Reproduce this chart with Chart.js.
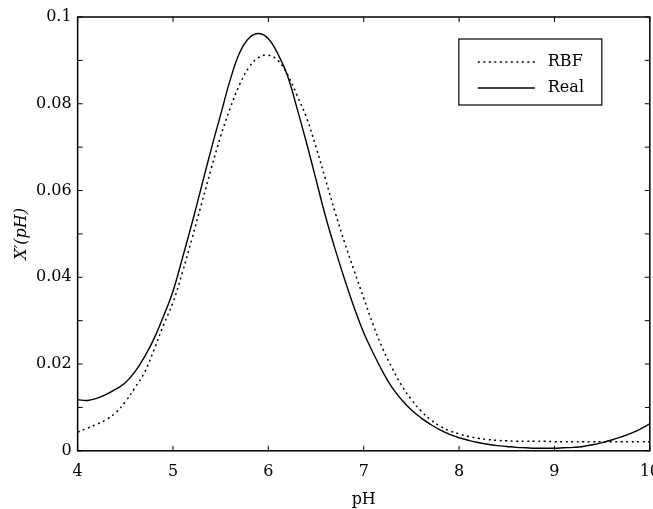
<!DOCTYPE html>
<html>
<head>
<meta charset="utf-8">
<script src="https://cdn.jsdelivr.net/npm/chart.js@4.4.0/dist/chart.umd.min.js"></script>
<style>
  html, body { margin: 0; padding: 0; background: #fff; overflow: hidden; }
  #wrap { width: 671px; height: 509px; }
</style>
</head>
<body>
<div id="wrap"><canvas id="chart"></canvas></div>
<script>
// pH values on the x axis
const ph = [
  4.0, 4.1, 4.2, 4.3, 4.4, 4.5, 4.6, 4.7, 4.8, 4.9,
  5.0, 5.1, 5.2, 5.3, 5.4, 5.5, 5.6, 5.7, 5.8, 5.9,
  6.0, 6.1, 6.2, 6.3, 6.4, 6.5, 6.6, 6.7, 6.8, 6.9,
  7.0, 7.1, 7.2, 7.3, 7.4, 7.5, 7.6, 7.7, 7.8, 7.9,
  8.0, 8.1, 8.2, 8.3, 8.4, 8.5, 8.6, 8.7, 8.8, 8.9,
  9.0, 9.1, 9.2, 9.3, 9.4, 9.5, 9.6, 9.7, 9.8, 9.9, 10.0
];

// RBF approximation (dotted)
const rbf = [
  0.0043, 0.0052, 0.0061, 0.0072, 0.0088, 0.0113, 0.0145, 0.0180, 0.0232, 0.0290,
  0.0342, 0.0412, 0.0490, 0.0570, 0.0650, 0.0725, 0.0790, 0.0845, 0.0885, 0.0907,
  0.0912, 0.0900, 0.0868, 0.0820, 0.0768, 0.0700, 0.0625, 0.0550, 0.0480, 0.0415,
  0.0352, 0.0290, 0.0235, 0.0190, 0.0150, 0.0118, 0.0092, 0.0072, 0.0057, 0.0046,
  0.0039, 0.0033, 0.0029, 0.0026, 0.0024, 0.0023, 0.0022, 0.0022, 0.0022, 0.0022,
  0.0021, 0.0021, 0.0021, 0.0021, 0.0021, 0.0021, 0.0021, 0.0021, 0.0021, 0.0021, 0.0021
];

// real curve (solid)
const real = [
  0.0118, 0.0116, 0.0121, 0.0130, 0.0142, 0.0157, 0.0182, 0.0216, 0.0258, 0.0310,
  0.0368, 0.0445, 0.0525, 0.0610, 0.0695, 0.0775, 0.0855, 0.0918, 0.0952, 0.0962,
  0.0950, 0.0915, 0.0865, 0.0790, 0.0710, 0.0625, 0.0540, 0.0465, 0.0395, 0.0330,
  0.0272, 0.0225, 0.0182, 0.0145, 0.0117, 0.0094, 0.0076, 0.0061, 0.0048, 0.0038,
  0.0030, 0.0024, 0.0019, 0.0015, 0.0012, 0.0010, 0.0008, 0.0007, 0.0006, 0.0006,
  0.0006, 0.0007, 0.0008, 0.0010, 0.0014, 0.0019, 0.0025, 0.0032, 0.0040, 0.0050, 0.0062
];

const seriesNames = ["RBF", "Real"];
const FONT = "'DejaVu Serif', 'Liberation Serif', serif";

function pts(ys) {
  return ph.map((x, i) => ({ x: x, y: ys[i] }));
}

// frame, inward ticks and the boxed legend
const framePlugin = {
  id: "frame",
  afterDraw(chart) {
    const { ctx, chartArea: a, scales } = chart;
    ctx.save();
    ctx.strokeStyle = "#000";
    ctx.lineWidth = 1.5;
    ctx.strokeRect(a.left, a.top, a.right - a.left, a.bottom - a.top);
    ctx.lineWidth = 1;
    ctx.beginPath();
    scales.y.ticks.forEach(t => {
      const y = scales.y.getPixelForValue(t.value);
      ctx.moveTo(a.left, y); ctx.lineTo(a.left + 5, y);
      ctx.moveTo(a.right, y); ctx.lineTo(a.right - 5, y);
    });
    scales.x.ticks.forEach(t => {
      const x = scales.x.getPixelForValue(t.value);
      ctx.moveTo(x, a.bottom); ctx.lineTo(x, a.bottom - 5);
      ctx.moveTo(x, a.top); ctx.lineTo(x, a.top + 5);
    });
    ctx.stroke();

    // legend box
    const bx = a.right - 191, by = a.top + 22, bw = 143, bh = 66;
    ctx.fillStyle = "#fff";
    ctx.fillRect(bx, by, bw, bh);
    ctx.lineWidth = 1.2;
    ctx.strokeRect(bx, by, bw, bh);
    ctx.font = "16px " + FONT;
    ctx.textBaseline = "middle";
    ctx.fillStyle = "#000";
    chart.data.datasets.forEach((ds, i) => {
      const ly = by + 23 + i * 26;
      ctx.beginPath();
      ctx.lineWidth = ds.borderWidth;
      ctx.setLineDash(ds.borderDash || []);
      ctx.moveTo(bx + 19, ly);
      ctx.lineTo(bx + 76, ly);
      ctx.stroke();
      ctx.setLineDash([]);
      ctx.fillText(ds.label, bx + 89, ly);
    });
    ctx.restore();
  }
};

new Chart(document.getElementById("chart"), {
  type: "line",
  data: {
    datasets: [
      {
        label: seriesNames[0],
        data: pts(rbf),
        borderColor: "#000",
        borderWidth: 1.5,
        borderDash: [2, 3.5],
        pointRadius: 0,
        tension: 0.4,
        fill: false,
      },
      {
        label: seriesNames[1],
        data: pts(real),
        borderColor: "#000",
        borderWidth: 1.4,
        pointRadius: 0,
        tension: 0.4,
        fill: false,
      },
    ],
  },
  options: {
    responsive: true,
    maintainAspectRatio: false,
    animation: false,
    layout: { padding: { top: 17, right: 3, left: 14, bottom: 1 } },
    plugins: { legend: { display: false }, tooltip: { enabled: false } },
    scales: {
      x: {
        type: "linear",
        min: 4,
        max: 10,
        grid: { display: false, drawTicks: false },
        border: { display: false },
        ticks: { stepSize: 1, padding: 11, color: "#000", font: { family: FONT, size: 16 } },
        title: { display: true, text: "pH", color: "#000", font: { family: FONT, size: 16, lineHeight: 1 }, padding: { top: 0, bottom: 0 } },
      },
      y: {
        min: 0,
        max: 0.1,
        grid: { display: false, drawTicks: false },
        border: { display: false },
        ticks: {
          stepSize: 0.01,
          padding: 6,
          color: "#000",
          font: { family: FONT, size: 16 },
          callback: v => (Math.round(v * 100) % 2 === 0 ? String(+v.toFixed(2)) : ""),
        },
        title: { display: true, text: "X′(pH)", color: "#000", font: { family: FONT, size: 16, style: "italic", lineHeight: 1 }, padding: { top: 0, bottom: 0 } },
      },
    },
  },
  plugins: [framePlugin],
});
</script>
</body>
</html>
